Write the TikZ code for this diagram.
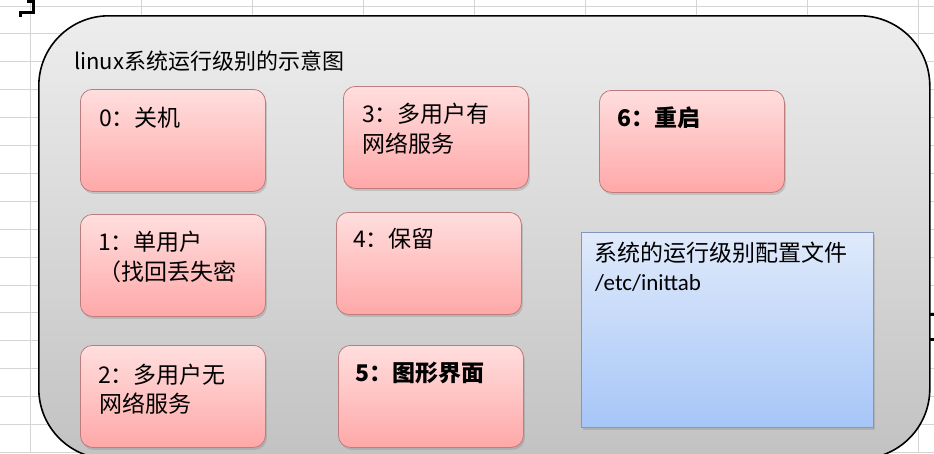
\documentclass[tikz,border=0pt]{standalone}
\usepackage{fontspec}
\setmainfont{Noto Sans CJK SC}
\newfontfamily\latinfont{Carlito}
\usetikzlibrary{shadows}
\definecolor{gridc}{HTML}{D4D4D4}
\definecolor{panelTop}{HTML}{EDEDED}
\definecolor{panelBot}{HTML}{C2C2C2}
\definecolor{pinkTop}{HTML}{FFDEDE}
\definecolor{pinkBot}{HTML}{FFA8A8}
\definecolor{pinkEdge}{HTML}{BE7C7C}
\definecolor{blueTop}{HTML}{E0EAFB}
\definecolor{blueBot}{HTML}{A6C6F7}
\definecolor{blueEdge}{HTML}{7F98BE}
\begin{document}
\begin{tikzpicture}[x=1pt,y=-1pt,
  gridline/.style={draw=gridc, line width=0.9pt},
  marker/.style={draw=black, line width=3pt},
  panel/.style={draw=black, line width=1.6pt, rounded corners=70pt,
    top color=panelTop, bottom color=panelBot, anchor=north west, inner sep=0pt},
  levelbox/.style={draw=pinkEdge, line width=0.8pt, rounded corners=12pt,
    top color=pinkTop, bottom color=pinkBot, anchor=north west, inner sep=0pt,
    minimum width=185pt, minimum height=102pt,
    drop shadow={shadow xshift=1.5pt, shadow yshift=-2.5pt, opacity=0.3}},
  cfgbox/.style={draw=blueEdge, line width=0.8pt,
    top color=blueTop, bottom color=blueBot, anchor=north west, inner sep=0pt,
    minimum width=292pt, minimum height=195pt,
    drop shadow={shadow xshift=1.5pt, shadow yshift=-2.5pt, opacity=0.3}},
  lvltext/.style={anchor=base west, inner sep=0pt, text=black,
    font=\fontsize{23}{27}\selectfont},
  titletext/.style={anchor=base west, inner sep=0pt, text=black,
    font=\fontsize{22}{26}\selectfont}
]
\useasboundingbox (0,0) rectangle (934,453);
\fill[white] (0,0) rectangle (934,453);
% spreadsheet grid
\foreach \gx in {30,141,...,918} {\draw[gridline] (\gx,0) -- (\gx,453);}
\foreach \k in {0,...,16} {\pgfmathsetmacro{\gy}{6+27.9*\k}\draw[gridline] (0,\gy) -- (934,\gy);}
% selection marks
\draw[marker] (27,1) -- (33,1) -- (33,12) -- (20,12) -- (20,17);
\draw[marker] (927,314) -- (934,314);
\draw[marker] (927,339) -- (934,339);
% panel
\node[panel, minimum width=891pt, minimum height=443pt] (panel) at (38,15) {};
\node[titletext] (title) at (74,69) {linux系统运行级别的示意图};
% level boxes
\node[levelbox] (b0) at (80,89) {};
\node[levelbox] (b1) at (80,214) {};
\node[levelbox] (b2) at (80,345) {};
\node[levelbox] (b3) at (343,86) {};
\node[levelbox] (b4) at (336,212) {};
\node[levelbox] (b5) at (338,345) {};
\node[levelbox] (b6) at (599,90) {};
\node[cfgbox] (cfg) at (581,232) {};
% texts
\node[lvltext] (t0) at (99,126.5) {0：关机};
\node[lvltext] (t1a) at (98,250) {1：单用户};
\node[lvltext] (t1b) at (98,280) {（找回丢失密};
\node[lvltext] (t2a) at (98,383) {2：多用户无};
\node[lvltext] (t2b) at (99,412.5) {网络服务};
\node[lvltext] (t3a) at (362,122) {3：多用户有};
\node[lvltext] (t3b) at (362,152.5) {网络服务};
\node[lvltext] (t4) at (353,247) {4：保留};
\node[lvltext, font=\fontsize{23}{27}\selectfont\bfseries] (t5) at (355,381.5) {5：图形界面};
\node[lvltext, font=\fontsize{23}{27}\selectfont\bfseries] (t6) at (617,126) {6：重启};
\node[lvltext] (tc1) at (594,261.5) {系统的运行级别配置文件};
\node[lvltext, font=\fontsize{23}{27}\latinfont] (tc2) at (595,290) {/etc/inittab};
\end{tikzpicture}
\end{document}
